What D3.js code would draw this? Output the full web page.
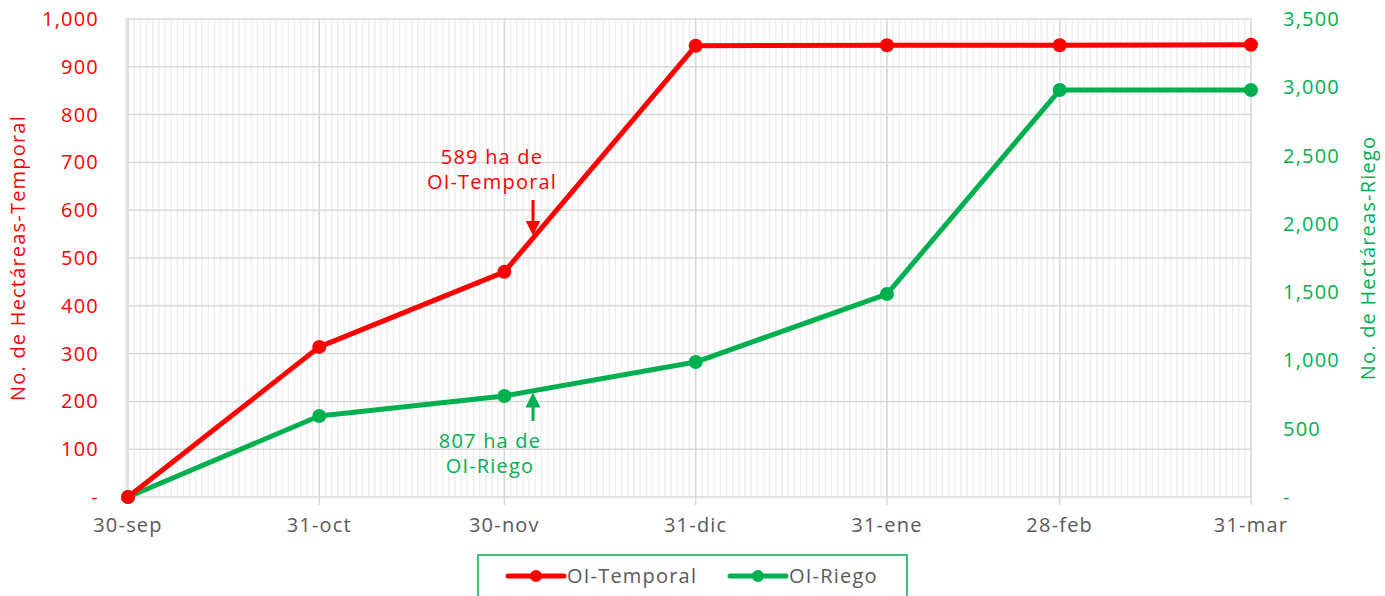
<!DOCTYPE html>
<html>
<head>
<meta charset="utf-8">
<script src="https://cdn.jsdelivr.net/npm/d3@7"></script>
<style>
  body { margin: 0; background: #fff; }
  text { font-family: "Open Sans", "Noto Sans", sans-serif; letter-spacing: 1.2px; }
</style>
</head>
<body>
<div id="chart"></div>
<script>
// data
const fechas = ["2022-09-30", "2022-10-31", "2022-11-30", "2022-12-31", "2023-01-31", "2023-02-28", "2023-03-31"];
const etiquetasX = ["30-sep", "31-oct", "30-nov", "31-dic", "31-ene", "28-feb", "31-mar"];
const temporal = [0, 314, 471, 944, 945, 945, 946];
const riego = [0, 593, 740, 988, 1486, 2980, 2980];
const ticksIzq = [0, 100, 200, 300, 400, 500, 600, 700, 800, 900, 1000];
const ticksDer = [0, 500, 1000, 1500, 2000, 2500, 3000, 3500];

const W = 1385, H = 596;
const rojo = "#FF0000", verde = "#00B050";
const parse = d3.timeParse("%Y-%m-%d");
const dates = fechas.map(parse);

const svg = d3.select("#chart").append("svg")
    .attr("width", W).attr("height", H);

const x = d3.scaleTime().domain([dates[0], dates[dates.length - 1]]).range([128, 1251]);
const yL = d3.scaleLinear().domain([0, 1000]).range([497, 19]);
const yR = d3.scaleLinear().domain([0, 3500]).range([497, 19]);

const fmt = d3.format(",");

// minor daily grid
const dias = d3.timeDay.range(dates[0], d3.timeDay.offset(dates[dates.length - 1], 1));
svg.append("g").selectAll("line").data(dias).enter().append("line")
    .attr("x1", d => x(d)).attr("x2", d => x(d))
    .attr("y1", 19).attr("y2", 497)
    .attr("stroke", "#efefef").attr("stroke-width", 1.6);

// horizontal grid
svg.append("g").selectAll("line").data(ticksIzq).enter().append("line")
    .attr("x1", 126).attr("x2", 1251)
    .attr("y1", d => yL(d)).attr("y2", d => yL(d))
    .attr("stroke", "#d9d9d9").attr("stroke-width", 1.5);

// major monthly grid
svg.append("g").selectAll("line").data(dates).enter().append("line")
    .attr("x1", d => x(d)).attr("x2", d => x(d))
    .attr("y1", 19).attr("y2", d => (d === dates[0] ? 497 : 505))
    .attr("stroke", "#d9d9d9").attr("stroke-width", 1.5);

// left border
svg.append("line").attr("x1", 126).attr("x2", 126).attr("y1", 19).attr("y2", 497)
    .attr("stroke", "#e3e3e3").attr("stroke-width", 1.5);

// left axis labels
svg.append("g").selectAll("text").data(ticksIzq).enter().append("text")
    .attr("x", 99).attr("y", d => yL(d)).attr("dy", "0.35em")
    .attr("text-anchor", "end").attr("fill", rojo).style("font-size", "20px")
    .text(d => d === 0 ? "-" : fmt(d));

// right axis labels
svg.append("g").selectAll("text").data(ticksDer).enter().append("text")
    .attr("x", 1283).attr("y", d => yR(d)).attr("dy", "0.35em")
    .attr("text-anchor", "start").attr("fill", verde).style("font-size", "20px")
    .text(d => d === 0 ? "-" : fmt(d));

// x labels
svg.append("g").selectAll("text").data(dates).enter().append("text")
    .attr("x", d => x(d)).attr("y", 532)
    .attr("text-anchor", "middle").attr("fill", "#595959").style("font-size", "20px")
    .text((d, i) => etiquetasX[i]);

// axis titles
svg.append("text")
    .attr("transform", "translate(25,258) rotate(-90)")
    .attr("text-anchor", "middle").attr("fill", rojo).style("font-size", "20px")
    .text("No. de Hectáreas-Temporal");
svg.append("text")
    .attr("transform", "translate(1375,258) rotate(-90)")
    .attr("text-anchor", "middle").attr("fill", verde).style("font-size", "20px")
    .text("No. de Hectáreas-Riego");

// series
const series = [
    { name: "OI-Riego", values: riego, y: yR, color: verde },
    { name: "OI-Temporal", values: temporal, y: yL, color: rojo }
];
series.forEach(s => {
    const line = d3.line().x((d, i) => x(dates[i])).y(d => s.y(d));
    svg.append("path").attr("d", line(s.values))
        .attr("fill", "none").attr("stroke", s.color)
        .attr("stroke-width", 5).attr("stroke-linejoin", "round");
    svg.append("g").selectAll("circle").data(s.values).enter().append("circle")
        .attr("cx", (d, i) => x(dates[i])).attr("cy", d => s.y(d))
        .attr("r", 7).attr("fill", s.color);
});

// annotations
svg.append("defs").selectAll("marker").data([["aRojo", rojo], ["aVerde", verde]]).enter()
    .append("marker")
    .attr("id", d => d[0]).attr("viewBox", "0 0 10 10")
    .attr("refX", 5).attr("refY", 5)
    .attr("markerWidth", 5).attr("markerHeight", 5)
    .attr("orient", "auto")
    .append("path").attr("d", "M0,0 L10,5 L0,10 Z").attr("fill", d => d[1]);

svg.append("line").attr("x1", 533).attr("x2", 533).attr("y1", 200).attr("y2", 228)
    .attr("stroke", rojo).attr("stroke-width", 3).attr("marker-end", "url(#aRojo)");
svg.append("line").attr("x1", 533).attr("x2", 533).attr("y1", 421).attr("y2", 400)
    .attr("stroke", verde).attr("stroke-width", 3).attr("marker-end", "url(#aVerde)");

const notaT = svg.append("text").attr("fill", rojo).attr("text-anchor", "middle").style("font-size", "20px");
notaT.append("tspan").attr("x", 492).attr("y", 164).text("589 ha de");
notaT.append("tspan").attr("x", 492).attr("y", 189).text("OI-Temporal");

const notaR = svg.append("text").attr("fill", verde).attr("text-anchor", "middle").style("font-size", "20px");
notaR.append("tspan").attr("x", 490).attr("y", 448).text("807 ha de");
notaR.append("tspan").attr("x", 490).attr("y", 473).text("OI-Riego");

// legend
svg.append("rect").attr("x", 478).attr("y", 555).attr("width", 429).attr("height", 50)
    .attr("fill", "#fff").attr("stroke", verde).attr("stroke-width", 1.5);
const leyenda = [
    { name: "OI-Temporal", color: rojo, x: 508 },
    { name: "OI-Riego", color: verde, x: 730 }
];
leyenda.forEach(l => {
    svg.append("line").attr("x1", l.x).attr("x2", l.x + 56).attr("y1", 576).attr("y2", 576)
        .attr("stroke", l.color).attr("stroke-width", 5).attr("stroke-linecap", "round");
    svg.append("circle").attr("cx", l.x + 28).attr("cy", 576).attr("r", 6).attr("fill", l.color);
    svg.append("text").attr("x", l.x + 59).attr("y", 576).attr("dy", "0.35em")
        .attr("fill", "#595959").style("font-size", "20px").text(l.name);
});
</script>
</body>
</html>
